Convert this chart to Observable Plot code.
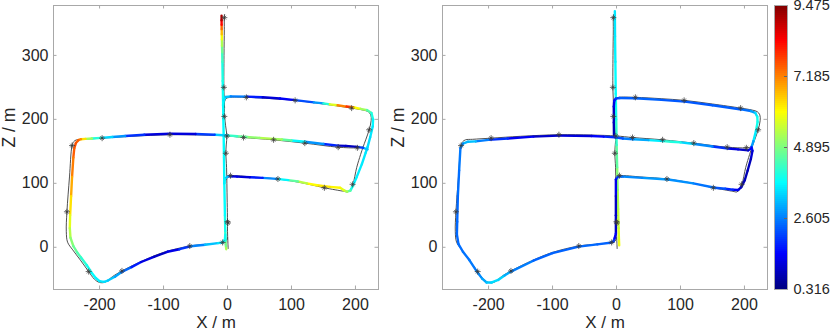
<!DOCTYPE html>
<html>
<head>
<meta charset="utf-8">
<script src="https://cdn.jsdelivr.net/npm/d3@7"></script>
<script src="https://cdn.jsdelivr.net/npm/@observablehq/plot@0.6"></script>
<style>
  html, body { margin: 0; padding: 0; background: #fff; }
  #wrap { position: relative; width: 830px; height: 334px; overflow: hidden; background: #fff; }
  #wrap svg { position: absolute; top: 0; overflow: visible; }
</style>
</head>
<body>
<div id="wrap"></div>
<script>
// ---------- tick labels / colour range ----------
const xTicks = [-200, -100, 0, 100, 200];
const yTicks = [0, 100, 200, 300];
const colorTicks = [0.316, 2.605, 4.895, 7.185, 9.475];
const xLabel = "X / m";
const yLabel = "Z / m";

// ---------- ground truth (x, z) ----------
const gtVertical = [[1,-2],[0.5,10],[0,25],[0,40],[-0.5,70],[-1,100],[-1.5,125],[-2.6,147],[-2,160],[-1,174],[-3,190],[-4.5,205],[-5,230],[-5.7,250],[-5.5,300],[-5,340],[-5,359],[-4.5,364]];
const gtRightLoop = [[-4.5,218],[-4.5,228],[-2,232.5],[3,234.3],[29.5,234.4],[70,232.3],[105.7,229.7],[150,224],[194,217.6],[212,214.5],[220,212],[224,207],[224.5,198],[221.4,183.7],[216,168],[212,157],[208,145],[202,125],[196,98.4],[192,90],[188,86.5],[182,87.5],[151.4,93],[120,100],[78.8,106.8],[40,109.8],[4.7,112],[0,110.5],[-1.5,106]];
const gtLeftLoop = [[212,157],[203,155.5],[173,156.5],[120.8,162.8],[72,168],[25,171.6],[0,174],[-40,175.5],[-90,176],[-150,173.5],[-196,170.6],[-225,168.8],[-236,168],[-240.5,165],[-243,159],[-247,110],[-251,55.5],[-252,25],[-250,8],[-242,-4],[-230,-20],[-217,-38],[-208,-50],[-200,-55],[-191,-54.5],[-180,-46],[-165,-37],[-130,-20],[-100,-8],[-59,2],[-30,5],[-7.6,7.6],[-2,10],[0,15]];

// ---------- star markers on the ground truth ----------
const stars = [[-5,359],[-5.7,250],[-5,204.6],[-1,174],[-2.6,147],[0,40],[0.6,38],[-7.6,7.6],
  [29.5,234.4],[105.7,229.7],[194,217.6],[221.4,183.7],
  [25,171.6],[72,168],[120.8,162.8],[173,156.5],[203,155.5],
  [195.5,98.4],[151.4,93],[78.8,106.8],[4.7,112],
  [-59,2],[-165,-37],[-217,-38],[-251,55.5],[-243,159],[-196,170.6],[-90,176]];

// ---------- estimate 1 (left panel): x, z, error ----------
const est1Vertical = [[-2,-3,5.6],[-2.5,2,5.0],[-3,10,4.6],[-3.5,25,4.0],[-4,50,3.8],[-5,100,3.7],[-5.5,140,3.7],[-6,174,3.8],[-6.5,200,3.7],[-7,233,3.8],[-7.5,260,3.9],[-8,290,4.1],[-8.3,305,4.5],[-8.6,315,5.0],[-8.8,325,5.6],[-9,333,6.3],[-9.1,341,7.0],[-9.2,348,7.8],[-9.3,355,8.8],[-9.3,362,9.3]];
const est1RightLoop = [[-7,222,3.8],[-6,230,3.7],[-3,235,3.4],[5,236,3.0],[30.6,235.5,2.2],[55,234.5,1.2],[82,232.5,1.0],[105.7,230,1.8],[135,226.5,2.5],[150,225,3.2],[160,223.5,5.0],[172,222,6.5],[186,220,7.8],[192,219.5,8.0],[198,218.5,6.5],[208,216.5,5.6],[218,214.5,4.8],[225,210,4.2],[227.5,200,3.8],[227,189,3.6],[223,172,3.5],[219,157,3.4],[216,148,3.5],[210,130,3.6],[202,110,3.6],[196,96,3.7],[192,88.5,4.2],[187,87,5.0],[182,89,5.6],[176,93,6.0],[160,94.5,6.2],[140,97,6.3],[124,100,5.8],[110,103,5.0],[95,105,4.2],[77,107,3.2],[55,108.5,2.2],[35,109.5,1.2],[15,110.5,1.0],[5,111,1.5],[0,110.5,2.8],[-4,107,3.6],[-5,100,3.7]];
const est1LeftLoop = [[219,153,3.4],[212,155.5,3.0],[203,157,1.0],[185,158.5,0.8],[173,159,1.2],[150,161.5,2.4],[121,165,3.2],[100,167,4.2],[85,168.5,5.0],[72,169.5,5.4],[50,171,5.3],[30,172.5,4.8],[15,173.5,4.5],[0,175,4.0],[-20,176,2.6],[-50,177,1.4],[-90,177.5,0.9],[-130,176,1.4],[-160,174,2.4],[-180,172.5,3.2],[-197.5,171,3.6],[-212,170,4.6],[-222,169.5,5.8],[-229,169,6.8],[-233,167.5,7.4],[-237,163,7.6],[-239.5,155,7.6],[-241,140,7.4],[-243,110,7.0],[-244.5,80,6.6],[-246,50,6.0],[-246.5,30,5.6],[-245.5,15,5.2],[-241,2,4.8],[-235,-8,4.6],[-229,-16,4.3],[-220,-28,4.0],[-213,-39,3.8],[-206,-48,3.7],[-200,-53,3.6],[-193,-54,3.5],[-187,-52,3.4],[-176,-46,3.1],[-166,-39,2.8],[-150,-31,2.0],[-135,-23,1.4],[-115,-15,1.0],[-94,-7,0.9],[-75,-3,1.6],[-57.5,1.6,2.3],[-35,4,3.0],[-15,6.5,3.4],[-8,7.5,3.6],[-4,12,3.8],[-3.5,20,3.9]];

// ---------- estimate 2 (right panel): x, z, error ----------
const est2Vertical = [[4.2,3,6.0],[3.8,12,5.8],[3.2,30,5.6],[2.5,60,5.4],[1.8,90,5.2],[1,125,4.8],[0.2,160,4.4],[-0.5,200,4.0],[-1.2,240,3.8],[-1.8,290,3.7],[-2.3,330,3.6],[-2.6,369,3.5]];
const est2RightLoop = [[-4,176,0.8],[-4.2,195,0.8],[-4.2,220,1.0],[-3.5,229,1.4],[-1,232.5,1.8],[5,233.3,2.2],[28.6,233,2.4],[70,230.5,2.3],[106.7,227.8,2.2],[150,222,2.3],[195,215.5,2.3],[210,213,2.6],[217,210,3.2],[220,204,3.8],[220.5,196,4.0],[218,182,3.8],[214,166,3.4],[211,157,2.4],[212.5,151,1.2],[210,138,0.9],[205,120,0.8],[200.5,105,0.8],[195,94,0.9],[190,89.5,1.1],[182,90,1.6],[170,91.5,2.0],[153.6,93,2.4],[120,100,2.6],[80.8,106,2.9],[40,108.5,2.8],[10,110.5,2.6],[2,110,2.4],[-1,106,1.6],[-1,80,1.0],[-1,50,0.9],[-1,21.5,1.0]];
const est2LeftLoop = [[211,155,1.8],[205.8,151.5,1.0],[190,153,1.0],[174.5,154.5,1.4],[150,157.5,2.4],[122,161.5,3.0],[100,164,3.8],[85,165,4.2],[73,166,4.0],[50,167.5,3.2],[26,168.8,2.8],[10,170,2.4],[-2.6,172,2.0],[-20,173,1.6],[-39,174,1.4],[-90,174.5,0.9],[-130,173,1.1],[-170,170,1.6],[-200,168,2.2],[-220,165.5,3.0],[-232,165,3.4],[-240,162,2.8],[-244,155,2.6],[-246,120,2.5],[-248,80,2.4],[-249,40,2.4],[-249.5,20,2.4],[-247,5,2.4],[-240,-7,2.5],[-230,-20,2.5],[-219,-37,2.6],[-210,-49,2.8],[-203,-55,3.1],[-195,-55,3.4],[-185,-51,3.5],[-175,-44,3.2],[-165,-38,2.8],[-130,-21,2.4],[-100,-9,2.3],[-59,1,2.4],[-30,4.5,2.4],[-10,7,2.3],[-5,9,2.2],[-3,14,1.8],[-1,21.5,1.0]];

// ---------- helpers ----------
const cMin = colorTicks[0], cMax = colorTicks[colorTicks.length - 1];
const jet = d3.piecewise(d3.interpolateRgb, ["#00007f","#0000ff","#007fff","#00ffff","#7fff7f","#ffff00","#ff7f00","#ff0000","#7f0000"]);
const colorScale = {type: "linear", domain: [cMin, cMax], interpolate: jet};
const frameColor = "#a8a8a8";
const textColor = "#262626";
const fontFamily = "'Liberation Sans', Arial, Helvetica, sans-serif";
const xDomain = [-272, 236];
const yDomain = [-66, 378];

const gtRows = [["v", gtVertical], ["r", gtRightLoop], ["l", gtLeftLoop]]
  .flatMap(([seg, pts]) => pts.map(([x, z]) => ({seg, x, z})));
const starRows = stars.map(([x, z]) => ({x, z}));

function segments(pts) {
  const out = [];
  for (let i = 1; i < pts.length; i++) {
    const [x1, z1, e1] = pts[i - 1], [x2, z2, e2] = pts[i];
    out.push({x1, z1, x2, z2, err: (e1 + e2) / 2});
  }
  return out;
}

function panel(estParts) {
  const links = estParts.flatMap(segments);
  return Plot.plot({
    width: 380, height: 334,
    marginLeft: 53, marginRight: 2, marginTop: 5, marginBottom: 45,
    style: {fontFamily, fontSize: "16px", color: textColor, background: "transparent", overflow: "visible"},
    x: {domain: xDomain, ticks: xTicks, tickFormat: d => String(d), tickSize: 0, tickPadding: 9, label: null},
    y: {domain: yDomain, ticks: yTicks, tickFormat: d => String(d), tickSize: 0, tickPadding: 5, label: null},
    color: colorScale,
    marks: [
      Plot.frame({stroke: frameColor}),
      Plot.ruleX(xTicks, {x: d => d, y1: yDomain[0], y2: yDomain[0], insetTop: -3.5, stroke: frameColor}),
      Plot.ruleX(xTicks, {x: d => d, y1: yDomain[1], y2: yDomain[1], insetBottom: -3.5, stroke: frameColor}),
      Plot.ruleY(yTicks, {y: d => d, x1: xDomain[0], x2: xDomain[0], insetRight: -3.5, stroke: frameColor}),
      Plot.ruleY(yTicks, {y: d => d, x1: xDomain[1], x2: xDomain[1], insetLeft: -3.5, stroke: frameColor}),
      Plot.line(gtRows, {x: "x", y: "z", z: "seg", stroke: "#3c3c3c", strokeWidth: 0.9, curve: "catmull-rom"}),
      Plot.link(links, {x1: "x1", y1: "z1", x2: "x2", y2: "z2", stroke: "err", strokeWidth: 2.4, strokeLinecap: "round"}),
      Plot.dot(starRows, {x: "x", y: "z", symbol: "plus", r: 2.1, stroke: "#3a3a3a", strokeWidth: 0.75}),
      Plot.dot(starRows, {x: "x", y: "z", symbol: "times", r: 1.8, stroke: "#3a3a3a", strokeWidth: 0.75}),
      Plot.text([xLabel], {frameAnchor: "bottom", dy: 38, fontSize: 17, fill: textColor}),
      Plot.text([yLabel], {frameAnchor: "left", dx: -44, rotate: -90, fontSize: 17.5, fill: textColor})
    ]
  });
}

const left = panel([est1Vertical, est1RightLoop, est1LeftLoop]);
left.style.left = "0px";
const right = panel([est2Vertical, est2RightLoop, est2LeftLoop]);
right.style.left = "389px";

// colour bar: a stack of thin rects spanning the colour domain
const nLevels = 142;
const levels = d3.range(nLevels).map(i => {
  const lo = cMin + (cMax - cMin) * i / nLevels;
  const hi = cMin + (cMax - cMin) * (i + 1) / nLevels;
  return {lo, hi, mid: (lo + hi) / 2};
});
const bar = Plot.plot({
  width: 62, height: 334,
  marginLeft: 6, marginRight: 43, marginTop: 5, marginBottom: 45,
  style: {fontFamily, fontSize: "14.5px", color: textColor, background: "transparent", overflow: "visible"},
  x: {domain: [0, 1], axis: null},
  y: {domain: [cMin, cMax], ticks: colorTicks, tickFormat: d => d.toFixed(3), tickSize: 0, tickPadding: 6, label: null, axis: "right"},
  color: colorScale,
  marks: [
    Plot.rect(levels, {x1: 0, x2: 1, y1: "lo", y2: "hi", fill: "mid", shapeRendering: "crispEdges"}),
    Plot.ruleY(colorTicks.slice(1, -1), {y: d => d, x1: 1, x2: 1, insetLeft: -3, stroke: "#666"}),
    Plot.frame({stroke: frameColor})
  ]
});
bar.style.left = "768px";

const wrap = document.getElementById("wrap");
wrap.append(left, right, bar);
</script>
</body>
</html>
